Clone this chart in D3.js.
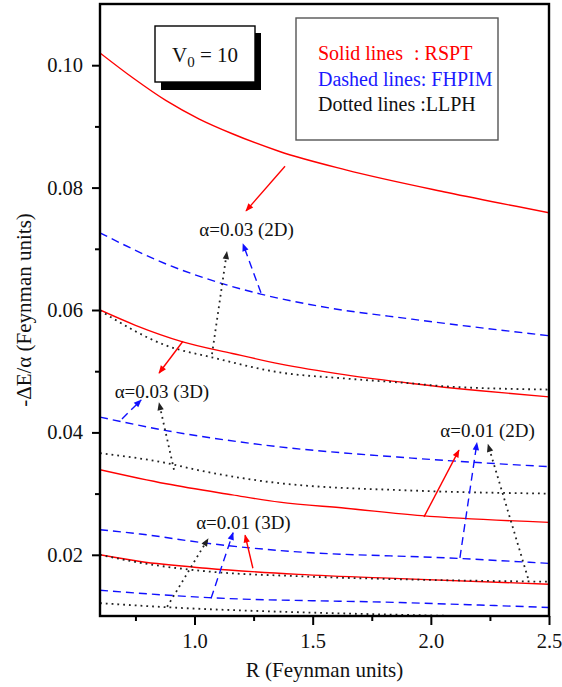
<!DOCTYPE html>
<html>
<head>
<meta charset="utf-8">
<script src="https://cdn.jsdelivr.net/npm/d3@7"></script>
<style>
  html, body { margin: 0; padding: 0; background: #fff; }
  svg { display: block; }
</style>
</head>
<body>
<svg id="chart" width="562" height="687"></svg>
<script>
// ---- data: -ΔE/α versus R for V0 = 10 ----
// RSPT (solid red)
const rspt03_2D = [[0.6,0.1020],[0.74,0.0979],[0.88,0.0942],[1.02,0.0912],[1.16,0.0888],[1.36,0.0859],[1.64,0.0829],[2.07,0.0792],[2.5,0.0759]];
const rspt03_3D = [[0.6,0.0600],[0.75,0.0575],[0.95,0.0548],[1.16,0.0529],[1.36,0.0512],[1.64,0.0494],[1.92,0.0480],[2.21,0.0468],[2.5,0.0458]];
const rspt01_2D = [[0.6,0.0339],[0.88,0.0316],[1.16,0.0298],[1.36,0.0286],[1.64,0.0276],[1.96,0.0264],[2.5,0.0253]];
const rspt01_3D = [[0.6,0.0200],[0.77,0.0189],[1.05,0.0178],[1.44,0.0168],[1.87,0.0161],[2.5,0.0152]];
// FHPIM (dashed blue)
const fhpim03_2D = [[0.6,0.0726],[0.9,0.0672],[1.11,0.0644],[1.28,0.0626],[1.53,0.0606],[1.92,0.0585],[2.5,0.0558]];
const fhpim03_3D = [[0.6,0.0425],[0.88,0.0403],[1.28,0.0380],[1.92,0.0358],[2.5,0.0344]];
const fhpim01_2D = [[0.6,0.0241],[0.77,0.0234],[1.05,0.0219],[1.36,0.0207],[2.12,0.0194],[2.5,0.0186]];
const fhpim01_3D = [[0.6,0.0142],[1.06,0.0130],[1.87,0.0122],[2.5,0.0114]];
// LLPH (dotted black)
const llph_a = [[0.6,0.0599],[0.88,0.0542],[1.08,0.0522],[1.36,0.0498],[1.64,0.0488],[1.92,0.0480],[2.07,0.0475],[2.5,0.0470]];
const llph_b = [[0.6,0.0366],[0.88,0.0350],[1.02,0.0338],[1.36,0.0317],[1.92,0.0305],[2.5,0.0300]];
const llph_c = [[0.6,0.0200],[0.77,0.0187],[1.05,0.0173],[1.44,0.0165],[1.87,0.0160],[2.5,0.0156]];
const llph_d = [[0.6,0.0121],[0.9,0.0114],[1.45,0.0106],[1.87,0.0102],[2.5,0.0097]];

// axis ticks
const xMajor = [1.0, 1.5, 2.0, 2.5];
const xMinor = [0.75, 1.25, 1.75, 2.25];
const yMajor = [0.02, 0.04, 0.06, 0.08, 0.10];
const yMinor = [0.03, 0.05, 0.07, 0.09];

// annotation labels and their pointer arrows, in data coordinates
const labels = [
  { text: "α=0.03 (2D)", R: 1.22,  v: 0.0721 },
  { text: "α=0.03 (3D)", R: 0.862, v: 0.0456 },
  { text: "α=0.01 (2D)", R: 2.24,  v: 0.0392 },
  { text: "α=0.01 (3D)", R: 1.207, v: 0.0242 }
];
const arrows = [
  { kind: "red",  from: [1.383,0.0835], to: [1.218,0.0762] },
  { kind: "dot",  from: [1.074,0.0528], to: [1.137,0.0695] },
  { kind: "blue", from: [1.281,0.0628], to: [1.205,0.0708] },
  { kind: "red",  from: [0.951,0.0549], to: [0.850,0.0497] },
  { kind: "blue", from: [0.693,0.0422], to: [0.774,0.0453] },
  { kind: "dot",  from: [0.913,0.0339], to: [0.850,0.0448] },
  { kind: "red",  from: [1.971,0.0262], to: [2.119,0.0371] },
  { kind: "blue", from: [2.123,0.0195], to: [2.195,0.0383] },
  { kind: "dot",  from: [2.411,0.0162], to: [2.242,0.0380] },
  { kind: "dot",  from: [0.884,0.0115], to: [1.057,0.0226] },
  { kind: "blue", from: [1.070,0.0129], to: [1.163,0.0236] },
  { kind: "red",  from: [1.247,0.0178], to: [1.214,0.0232] }
];

// ---- layout ----
const SERIF = "'Liberation Serif', 'Times New Roman', Times, 'DejaVu Serif', serif";
const svg = d3.select("#chart").attr("font-family", SERIF).style("font-family", SERIF);
const m = { left: 100, right: 549, top: 4, bottom: 616 };
const x = d3.scaleLinear().domain([0.6, 2.5]).range([m.left, m.right]);
const y = d3.scaleLinear().domain([0.01, 0.11]).range([m.bottom, m.top]);

const styles = {
  red:  { stroke: "#ff0000", width: 1.4, dash: null },
  blue: { stroke: "#1010ff", width: 1.4, dash: "8,5" },
  dot:  { stroke: "#222",    width: 1.8, dash: "1.8,4" }
};

const defs = svg.append("defs");
defs.append("clipPath").attr("id", "plotclip")
  .append("rect").attr("x", m.left).attr("y", m.top)
  .attr("width", m.right - m.left).attr("height", m.bottom - m.top);
Object.entries(styles).forEach(([k, s]) => {
  defs.append("marker").attr("id", "head-" + k)
    .attr("markerUnits", "userSpaceOnUse")
    .attr("viewBox", "0 0 10 10").attr("refX", 9).attr("refY", 5)
    .attr("markerWidth", 9).attr("markerHeight", 8).attr("orient", "auto")
    .append("path").attr("d", "M0,1 L10,5 L0,9 Z").attr("fill", s.stroke);
});

// helper so every text node carries the serif face explicitly
const serif = sel => sel.attr("font-family", SERIF).style("font-family", SERIF);

// ---- curves ----
const line = d3.line().x(d => x(d[0])).y(d => y(d[1])).curve(d3.curveMonotoneX);
const series = [
  [rspt03_2D, "red"], [rspt03_3D, "red"], [rspt01_2D, "red"], [rspt01_3D, "red"],
  [fhpim03_2D, "blue"], [fhpim03_3D, "blue"], [fhpim01_2D, "blue"], [fhpim01_3D, "blue"],
  [llph_a, "dot"], [llph_b, "dot"], [llph_c, "dot"], [llph_d, "dot"]
];
const gCurves = svg.append("g").attr("clip-path", "url(#plotclip)");
series.forEach(([data, k]) => {
  const s = styles[k];
  gCurves.append("path").datum(data).attr("d", line)
    .attr("fill", "none").attr("stroke", s.stroke)
    .attr("stroke-width", s.width)
    .attr("stroke-dasharray", s.dash);
});

// ---- annotation arrows and labels ----
arrows.forEach(a => {
  const s = styles[a.kind];
  svg.append("line")
    .attr("x1", x(a.from[0])).attr("y1", y(a.from[1]))
    .attr("x2", x(a.to[0])).attr("y2", y(a.to[1]))
    .attr("stroke", s.stroke).attr("stroke-width", s.width)
    .attr("stroke-dasharray", s.dash)
    .attr("marker-end", "url(#head-" + a.kind + ")");
});
svg.append("g").selectAll("text").data(labels).join("text")
  .attr("x", d => x(d.R)).attr("y", d => y(d.v))
  .attr("text-anchor", "middle").attr("font-size", 19).attr("fill", "#111")
  .call(serif)
  .text(d => d.text);

// ---- axes ----
const axisStyle = g => {
  g.attr("font-family", SERIF).attr("font-size", 20);
  g.select(".domain").remove();
  g.selectAll(".tick line").attr("stroke", "#000").attr("stroke-width", 2);
  g.selectAll(".tick text").attr("font-size", 20.5).attr("fill", "#111").call(serif);
};
svg.append("g").attr("transform", `translate(0,${m.bottom})`)
  .call(d3.axisBottom(x).tickValues(xMajor).tickSize(9).tickPadding(8)
    .tickFormat(d3.format(".1f"))).call(axisStyle);
svg.append("g").attr("transform", `translate(0,${m.bottom})`)
  .call(d3.axisBottom(x).tickValues(xMinor).tickSize(5).tickFormat("")).call(axisStyle);
svg.append("g").attr("transform", `translate(${m.left},0)`)
  .call(d3.axisLeft(y).tickValues(yMajor).tickSize(8).tickPadding(9)
    .tickFormat(d3.format(".2f"))).call(axisStyle);
svg.append("g").attr("transform", `translate(${m.left},0)`)
  .call(d3.axisLeft(y).tickValues(yMinor).tickSize(5).tickFormat("")).call(axisStyle);

// plot frame
svg.append("rect").attr("x", m.left).attr("y", m.top)
  .attr("width", m.right - m.left).attr("height", m.bottom - m.top)
  .attr("fill", "none").attr("stroke", "#000").attr("stroke-width", 2.4);

// axis titles
svg.append("text").attr("x", (m.left + m.right) / 2).attr("y", 677)
  .attr("text-anchor", "middle").attr("font-size", 21).attr("fill", "#111")
  .call(serif).text("R (Feynman units)");
svg.append("text").attr("transform", `translate(31,${(m.top + m.bottom) / 2}) rotate(-90)`)
  .attr("text-anchor", "middle").attr("font-size", 21).attr("fill", "#111")
  .call(serif).text("-ΔE/α (Feynman units)");

// ---- V0 box with drop shadow ----
svg.append("rect").attr("x", 161).attr("y", 33).attr("width", 100).attr("height", 57).attr("fill", "#000");
svg.append("rect").attr("x", 155).attr("y", 26).attr("width", 100).attr("height", 56)
  .attr("fill", "#fff").attr("stroke", "#000").attr("stroke-width", 1.4);
const v0 = svg.append("text").attr("x", 205).attr("y", 62)
  .attr("text-anchor", "middle").attr("font-size", 21).attr("fill", "#111").call(serif);
v0.append("tspan").text("V");
v0.append("tspan").attr("font-size", 15).attr("dy", 5).text("0");
v0.append("tspan").attr("dy", -5).text(" = 10");

// ---- legend ----
svg.append("rect").attr("x", 296).attr("y", 18).attr("width", 202).attr("height", 122)
  .attr("fill", "#fff").attr("stroke", "#555").attr("stroke-width", 1.4);
const leg = svg.append("g").attr("font-size", 20);
leg.append("text").attr("x", 318).attr("y", 60).attr("fill", "#ff0000").call(serif).text("Solid lines");
leg.append("text").attr("x", 414).attr("y", 60).attr("fill", "#ff0000").call(serif).text(": RSPT");
leg.append("text").attr("x", 318).attr("y", 86).attr("fill", "#1a1aff").call(serif).text("Dashed lines: FHPIM");
leg.append("text").attr("x", 318).attr("y", 111).attr("fill", "#111").call(serif).text("Dotted lines :LLPH");
</script>
</body>
</html>
